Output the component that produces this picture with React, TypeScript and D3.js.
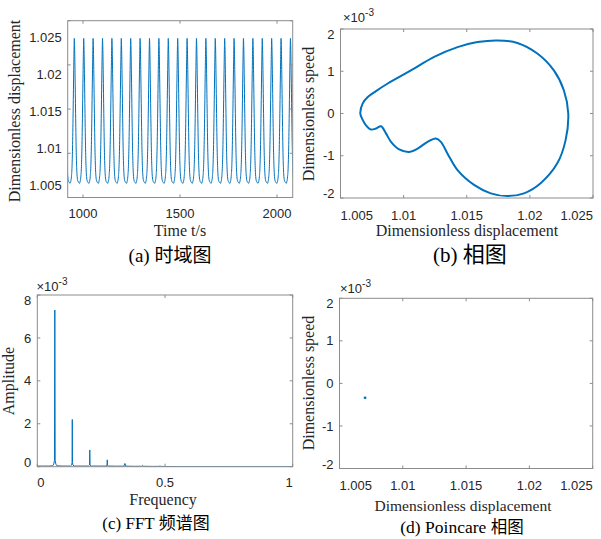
import React from "react";
import * as d3 from "d3";

// ---------------- data ----------------
// (a) time history: one measured period, repeated along the time axis
const timeTicks = [1000, 1500, 2000];
const dispTicks = [1.005, 1.01, 1.015, 1.02, 1.025];
const cyclePeriod = 48.45;
const firstTrough = 932.7;
const cycleIndex = [-1, 0, 1, 2, 3, 4, 5, 6, 7, 8, 9, 10, 11, 12, 13, 14, 15, 16, 17, 18, 19, 20, 21, 22, 23, 24];
const cyclePhase = [0, 0.08, 0.16, 0.22, 0.28, 0.34, 0.4, 0.44, 0.46, 0.49, 0.54, 0.6, 0.66, 0.72, 0.78, 0.86, 0.93];
const cycleDisp = [1.0066, 1.0068, 1.0074, 1.0085, 1.011, 1.015, 1.0195, 1.0222, 1.023, 1.0222, 1.019, 1.0145, 1.0105, 1.0082, 1.0072, 1.0068, 1.0067];

// (b) phase portrait (speed in 1e-3)
const loopDisp = [
  1.00657, 1.00676, 1.00716, 1.00781, 1.00874, 1.01058, 1.01242, 1.01427, 1.01585, 1.01743,
  1.01901, 1.02059, 1.0219, 1.02269, 1.02304, 1.02283, 1.02217, 1.02085, 1.01953, 1.01822,
  1.0169, 1.01558, 1.01427, 1.01348, 1.01295, 1.01255, 1.0119, 1.01111, 1.01045, 1.00965,
  1.009, 1.0086, 1.00821, 1.00781, 1.00742, 1.00702, 1.00671,
];
const loopSpeed = [
  0, 0.24, 0.39, 0.53, 0.71, 1.02, 1.34, 1.57, 1.69, 1.73,
  1.67, 1.42, 1.02, 0.55, 0, -0.63, -1.18, -1.65, -1.89, -1.955,
  -1.89, -1.69, -1.34, -0.95, -0.67, -0.59, -0.67, -0.83, -0.91, -0.85,
  -0.67, -0.47, -0.3, -0.355, -0.38, -0.28, -0.12,
];
const speedTicks = [-2, -1, 0, 1, 2];

// (c) FFT spectrum (amplitude in 1e-3)
const freqTicks = [0, 0.5, 1];
const ampTicks = [0, 2, 4, 6, 8];
const fftFreq = [
  0, 0.02, 0.045, 0.06, 0.0645, 0.0672, 0.0686, 0.07, 0.0727, 0.077,
  0.1, 0.13, 0.1345, 0.1362, 0.137, 0.1378, 0.1395, 0.144,
  0.17, 0.2, 0.2045, 0.2055, 0.2065, 0.211,
  0.24, 0.269, 0.273, 0.274, 0.275, 0.279,
  0.31, 0.339, 0.343, 0.347,
  0.38, 0.408, 0.412, 0.416,
  0.45, 0.476, 0.48, 0.484,
  0.5, 0.55, 0.7, 1.0,
];
const fftAmp = [
  0.03, 0.03, 0.03, 0.04, 0.12, 0.3, 7.3, 0.3, 0.12, 0.04,
  0.03, 0.03, 0.08, 0.2, 2.2, 0.2, 0.08, 0.03,
  0.03, 0.03, 0.08, 0.78, 0.08, 0.03,
  0.03, 0.03, 0.06, 0.32, 0.06, 0.03,
  0.025, 0.025, 0.15, 0.025,
  0.02, 0.02, 0.06, 0.02,
  0.015, 0.015, 0.03, 0.015,
  0.01, 0.005, 0.003, 0.002,
];

// (d) Poincare section
const poincareDisp = [1.00702];
const poincareSpeed = [-0.34];

const captions = ["(a)", "(b)", "(c)", "(d)"];
const captionCJK = ["时域图", "相图", "频谱图", "相图"];

// ---------------- styles ----------------
const BLUE = "#0072BD";
const AXIS = "#8c8c8c";
const TXT = "#262626";
const SANS = "'Liberation Sans', Arial, sans-serif";
const SERIF = "'Liberation Serif', 'Times New Roman', serif";
const CJK = "'Noto Sans CJK SC', sans-serif";

type Scale = d3.ScaleLinear<number, number>;

function Frame(props: {
  id: string;
  x: Scale;
  y: Scale;
  xTicks: number[];
  yTicks: number[];
  xFmt: (v: number) => string;
  yFmt: (v: number) => string;
  clampX: boolean;
  clampY: boolean;
  yLabelScale?: Scale;
  xLabelY: number;
  children?: React.ReactNode;
}) {
  const { id, x, y, xTicks, yTicks, xFmt, yFmt, clampX, clampY, yLabelScale, xLabelY } = props;
  const [x0, x1] = x.range();
  const [y1, y0] = y.range();
  const tl = 3;
  return (
    <g>
      <defs>
        <clipPath id={id}>
          <rect x={x0} y={y0} width={x1 - x0} height={y1 - y0} />
        </clipPath>
      </defs>
      <g clipPath={`url(#${id})`}>{props.children}</g>
      <rect x={x0} y={y0} width={x1 - x0} height={y1 - y0} fill="none" stroke={AXIS} strokeWidth={1} />
      {xTicks.map((v) => (
        <g key={"xt" + v}>
          <line x1={x(v)} x2={x(v)} y1={y1} y2={y1 - tl} stroke={AXIS} />
          <line x1={x(v)} x2={x(v)} y1={y0} y2={y0 + tl} stroke={AXIS} />
        </g>
      ))}
      {yTicks.map((v) => (
        <g key={"yt" + v}>
          <line x1={x0} x2={x0 + tl} y1={y(v)} y2={y(v)} stroke={AXIS} />
          <line x1={x1} x2={x1 - tl} y1={y(v)} y2={y(v)} stroke={AXIS} />
        </g>
      ))}
      {xTicks.map((v, i) => {
        let anchor = "middle";
        let px = x(v);
        if (clampX && i === 0) { anchor = "start"; px = x0; }
        if (clampX && i === xTicks.length - 1) { anchor = "end"; px = x1; }
        return (
          <text key={"xl" + v} x={px} y={xLabelY} textAnchor={anchor} fontFamily={SANS} fontSize={13} fill={TXT}>
            {xFmt(v)}
          </text>
        );
      })}
      {yTicks.map((v, i) => {
        let py = (yLabelScale ? yLabelScale(v) : y(v)) + 4.6;
        if (clampY && i === 0) py = y1;
        if (clampY && i === yTicks.length - 1) py = y0 + 9.5;
        return (
          <text key={"yl" + v} x={x0 - 6} y={py} textAnchor="end" fontFamily={SANS} fontSize={13} fill={TXT}>
            {yFmt(v)}
          </text>
        );
      })}
    </g>
  );
}

function Exponent({ x, y }: { x: number; y: number }) {
  return (
    <text x={x} y={y} fontFamily={SANS} fontSize={13} fill={TXT}>
      ×10<tspan dy={-6} fontSize={10}>-3</tspan>
    </text>
  );
}

function YTitle({ x, y, text }: { x: number; y: number; text: string }) {
  return (
    <text transform={`translate(${x},${y}) rotate(-90)`} textAnchor="middle" fontFamily={SERIF} fontSize={16} fill={TXT}>
      {text}
    </text>
  );
}

function XTitle({ x, y, text, size = 16 }: { x: number; y: number; text: string; size?: number }) {
  return (
    <text x={x} y={y} textAnchor="middle" fontFamily={SERIF} fontSize={size} fill={TXT}>
      {text}
    </text>
  );
}

export default function App() {
  // (a)
  const xa = d3.scaleLinear().domain([921, 2081]).range([67.7, 292.7]);
  const ya = d3.scaleLinear().domain([1.005, 1.025]).range([197.5, 20.7]);
  const yaLabel = d3.scaleLinear().domain([1.005, 1.025]).range([185, 37]);
  const seriesA: [number, number][] = [];
  cycleIndex.forEach((k) => {
    cyclePhase.forEach((p, j) => {
      seriesA.push([firstTrough + (k + p) * cyclePeriod, cycleDisp[j]]);
    });
  });
  const lineA = d3.line<[number, number]>().x((d) => xa(d[0])).y((d) => ya(d[1])).curve(d3.curveMonotoneX);

  // (b)
  const xb = d3.scaleLinear().domain([1.005, 1.025]).range([340.5, 593]);
  const yb = d3.scaleLinear().domain([-2, 2]).range([198, 29]);
  const loopPts: [number, number][] = loopDisp.map((v, i) => [v, loopSpeed[i]]);
  const lineB = d3.line<[number, number]>().x((d) => xb(d[0])).y((d) => yb(d[1])).curve(d3.curveCatmullRomClosed);

  // (c)
  const xc = d3.scaleLinear().domain([0, 1]).range([37.3, 292.7]);
  const yc = d3.scaleLinear().domain([0, 8]).range([466.7, 295]);
  const fftPts: [number, number][] = fftFreq.map((f, i) => [f, fftAmp[i]]);
  const lineC = d3.line<[number, number]>().x((d) => xc(d[0])).y((d) => yc(d[1]));

  // (d)
  const xd = d3.scaleLinear().domain([1.005, 1.025]).range([339.5, 592.7]);
  const yd = d3.scaleLinear().domain([-2, 2]).range([468.5, 298.3]);

  const fmtDisp = (v: number) => String(+v.toFixed(3));
  const fmtInt = (v: number) => String(v);

  return (
    <svg width={601} height={539} style={{ position: "absolute", left: 0, top: 0, background: "#fff" }}>
      <rect width={601} height={539} fill="#fff" />
      {/* (a) */}
      <Frame id="ca" x={xa} y={ya} xTicks={timeTicks} yTicks={dispTicks} xFmt={fmtInt} yFmt={fmtDisp}
        clampX={false} clampY={false} yLabelScale={yaLabel} xLabelY={218}>
        <path d={lineA(seriesA) || ""} fill="none" stroke={BLUE} strokeWidth={1} />
      </Frame>
      <YTitle x={20} y={111} text="Dimensionless displacement" />
      <XTitle x={180} y={235.5} text="Time t/s" />

      {/* (b) */}
      <Frame id="cb" x={xb} y={yb} xTicks={dispTicks} yTicks={speedTicks} xFmt={fmtDisp} yFmt={fmtInt}
        clampX={true} clampY={true} xLabelY={220}>
        <path d={lineB(loopPts) || ""} fill="none" stroke={BLUE} strokeWidth={2} />
      </Frame>
      <Exponent x={343} y={21.5} />
      <YTitle x={314} y={114} text="Dimensionless speed" />
      <XTitle x={467} y={235.5} text="Dimensionless displacement" />

      {/* (c) */}
      <Frame id="cc" x={xc} y={yc} xTicks={freqTicks} yTicks={ampTicks} xFmt={fmtInt} yFmt={fmtInt}
        clampX={true} clampY={true} xLabelY={486.5}>
        <path d={lineC(fftPts) || ""} fill="none" stroke={BLUE} strokeWidth={1} />
      </Frame>
      <Exponent x={36.5} y={290.5} />
      <YTitle x={14} y={381} text="Amplitude" />
      <XTitle x={163} y={504.5} text="Frequency" />

      {/* (d) */}
      <Frame id="cd" x={xd} y={yd} xTicks={dispTicks} yTicks={speedTicks} xFmt={fmtDisp} yFmt={fmtInt}
        clampX={true} clampY={true} xLabelY={490}>
        {poincareDisp.map((v, i) => (
          <circle key={i} cx={xd(v)} cy={yd(poincareSpeed[i])} r={1.4} fill={BLUE} />
        ))}
      </Frame>
      <Exponent x={340} y={293.3} />
      <YTitle x={314} y={383} text="Dimensionless speed" />
      <XTitle x={463} y={510.5} text="Dimensionless displacement" size={15.5} />

      {/* captions */}
      <text x={170} y={262} textAnchor="middle" fill="#000">
        <tspan fontFamily={SERIF} fontSize={19}>{captions[0]} </tspan>
        <tspan fontFamily={CJK} fontSize={19}>{captionCJK[0]}</tspan>
      </text>
      <text x={470} y={262} textAnchor="middle" fill="#000">
        <tspan fontFamily={SERIF} fontSize={21}>{captions[1]} </tspan>
        <tspan fontFamily={CJK} fontSize={22}>{captionCJK[1]}</tspan>
      </text>
      <text x={156} y={529} textAnchor="middle" fill="#000">
        <tspan fontFamily={SERIF} fontSize={17}>{captions[2]} FFT </tspan>
        <tspan fontFamily={CJK} fontSize={17}>{captionCJK[2]}</tspan>
      </text>
      <text x={462} y={533} textAnchor="middle" fill="#000">
        <tspan fontFamily={SERIF} fontSize={17.5}>{captions[3]} Poincare </tspan>
        <tspan fontFamily={CJK} fontSize={16.5}>{captionCJK[3]}</tspan>
      </text>
    </svg>
  );
}
